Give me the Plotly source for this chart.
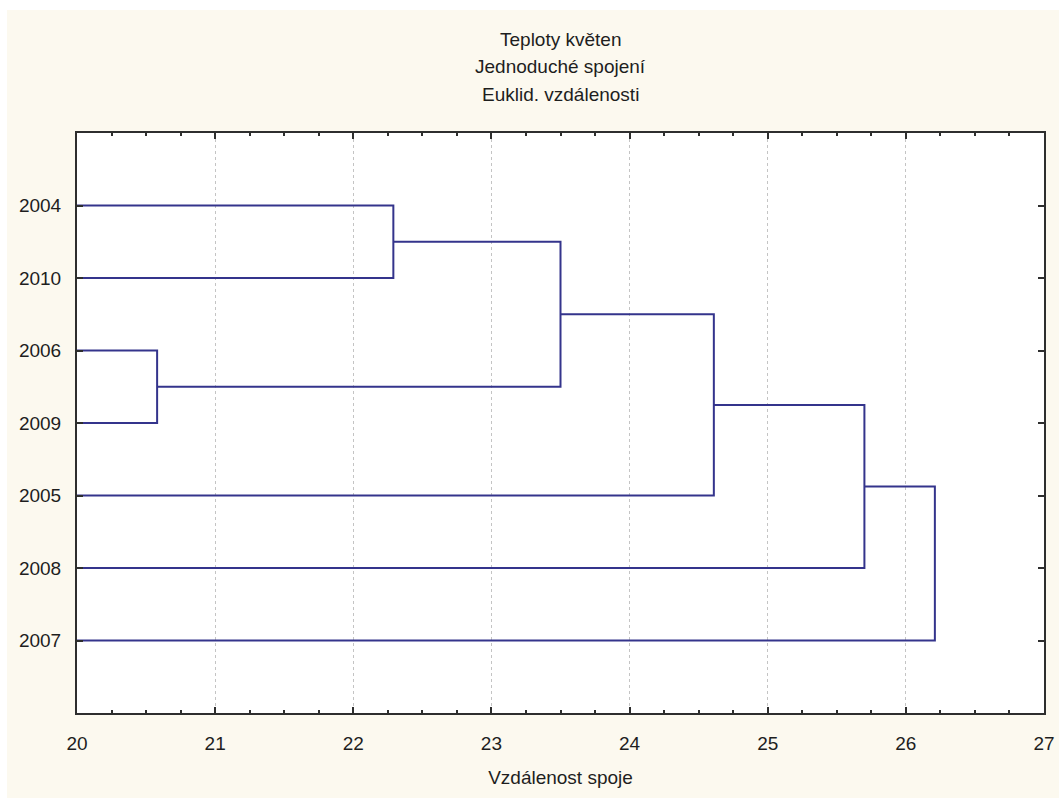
import plotly.graph_objects as go

# Leaf order (top to bottom) and agglomeration steps of the single-linkage tree
leaves = ["2004", "2010", "2006", "2009", "2005", "2008", "2007"]
merge_names = ["A", "B", "C", "D", "E", "F"]
merge_left = ["2004", "2006", "A", "C", "D", "E"]
merge_right = ["2010", "2009", "B", "2005", "2008", "2007"]
merge_dist = [22.29, 20.58, 23.50, 24.61, 25.70, 26.21]

x_ticks = [20, 21, 22, 23, 24, 25, 26, 27]
title_lines = ["Teploty květen", "Jednoduché spojení", "Euklid. vzdálenosti"]
x_title = "Vzdálenost spoje"

X_MIN, X_MAX = 20, 27

# figure geometry (pixels)
W, H = 1059, 798
M_L, M_R, M_T, M_B = 77, 15, 133, 85
PW, PH = W - M_L - M_R, H - M_T - M_B

LINE_COLOR = "#34348c"
AXIS_COLOR = "#2e2e2e"
TEXT_COLOR = "#1e1e1e"
FONT = "Liberation Sans"
FS = 19

# node coordinates: leaves sit at the left edge of the distance axis
node_x = {name: float(X_MIN) for name in leaves}
node_y = {name: float(i) for i, name in enumerate(leaves)}

xs, ys = [], []
for name, a, b, d in zip(merge_names, merge_left, merge_right, merge_dist):
    xs += [node_x[a], d, d, node_x[b], None]
    ys += [node_y[a], node_y[a], node_y[b], node_y[b], None]
    node_x[name] = d
    node_y[name] = (node_y[a] + node_y[b]) / 2

fig = go.Figure()
fig.add_trace(go.Scatter(
    x=xs, y=ys, mode="lines",
    line=dict(color=LINE_COLOR, width=2),
    hoverinfo="skip", showlegend=False, cliponaxis=True,
))

# page background (cream) with a thin white frame, white plotting area on top
fig.add_shape(type="rect", xref="paper", yref="paper", layer="below",
              x0=-(M_L - 7) / PW, x1=1 + M_R / PW,
              y0=-M_B / PH, y1=1 + (M_T - 10) / PH,
              fillcolor="#fcf9ef", line=dict(width=0))
fig.add_shape(type="rect", xref="paper", yref="paper", layer="below",
              x0=0, x1=1, y0=0, y1=1,
              fillcolor="white", line=dict(width=0))

# three-line heading
for txt, py in zip(title_lines, [40, 67, 94]):
    fig.add_annotation(text=txt, xref="paper", yref="paper",
                       x=0.5, y=1 + (M_T - py) / PH,
                       xanchor="center", yanchor="middle", showarrow=False,
                       font=dict(family=FONT, size=FS, color=TEXT_COLOR))

fig.update_xaxes(
    range=[X_MIN, X_MAX], tickvals=x_ticks, ticktext=[str(v) for v in x_ticks],
    ticks="inside", ticklen=6, tickwidth=2, tickcolor=AXIS_COLOR,
    showline=True, linecolor=AXIS_COLOR, linewidth=2, mirror="allticks",
    showgrid=True, gridcolor="#c4c4c4", griddash="dot", gridwidth=1,
    minor=dict(dtick=0.25, tick0=20, ticks="inside", ticklen=3, tickwidth=2,
               tickcolor=AXIS_COLOR, showgrid=False),
    zeroline=False, ticklabelstandoff=12, automargin=False,
    tickfont=dict(family=FONT, size=FS, color=TEXT_COLOR),
    title=dict(text=x_title, standoff=18,
               font=dict(family=FONT, size=FS, color=TEXT_COLOR)),
)
fig.update_yaxes(
    range=[len(leaves), -1], tickvals=list(range(len(leaves))), ticktext=leaves,
    ticks="inside", ticklen=6, tickwidth=2, tickcolor=AXIS_COLOR,
    showline=True, linecolor=AXIS_COLOR, linewidth=2, mirror="allticks",
    showgrid=False, zeroline=False, ticklabelstandoff=10, automargin=False,
    tickfont=dict(family=FONT, size=FS, color=TEXT_COLOR),
)

fig.update_layout(
    width=W, height=H, autosize=False,
    margin=dict(l=M_L, r=M_R, t=M_T, b=M_B, pad=0),
    paper_bgcolor="white", plot_bgcolor="white",
    showlegend=False,
)

fig.write_html("out.html")
